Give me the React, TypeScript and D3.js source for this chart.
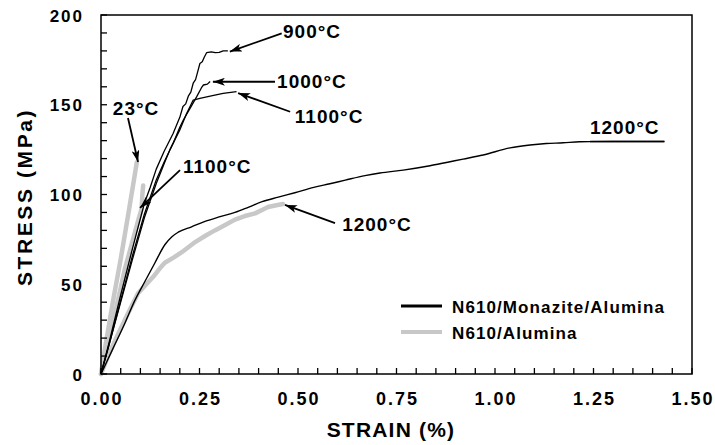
import React from "react";
import * as d3 from "d3";

type Pt = [number, number];

const xTicks = [0, 0.25, 0.5, 0.75, 1.0, 1.25, 1.5];
const yTicks = [0, 50, 100, 150, 200];

const mon900: Pt[] = [
  [0, 0], [0.02, 17], [0.05, 44], [0.08, 70], [0.11, 95], [0.125, 104], [0.14, 114], [0.16, 124],
  [0.183, 134], [0.2, 143], [0.208, 149], [0.215, 150.5], [0.222, 155], [0.228, 157], [0.234, 162],
  [0.24, 164], [0.245, 168], [0.251, 173], [0.257, 174], [0.262, 176.5], [0.268, 179],
  [0.28, 179.5], [0.29, 179], [0.3, 179.2], [0.31, 180], [0.322, 180],
];
const mon1000: Pt[] = [
  [0, 0], [0.02, 16], [0.05, 41], [0.08, 66], [0.11, 89], [0.14, 108], [0.16, 118],
  [0.184, 129], [0.2, 137.5], [0.209, 141.5], [0.226, 148], [0.243, 154.5], [0.255, 159.5],
  [0.26, 161], [0.27, 161.5], [0.277, 163],
];
const mon1100: Pt[] = [
  [0, 0], [0.02, 16], [0.05, 40], [0.08, 64], [0.11, 87], [0.14, 106], [0.16, 117],
  [0.175, 125], [0.2, 136], [0.217, 145], [0.234, 152.6], [0.251, 153.6], [0.28, 155],
  [0.31, 156.3], [0.344, 157.3],
];
const mon1200: Pt[] = [
  [0, 0], [0.03, 14], [0.06, 28], [0.086, 41], [0.11, 51], [0.137, 62], [0.162, 72],
  [0.18, 76.5], [0.196, 79], [0.23, 82], [0.264, 85], [0.3, 87.5], [0.34, 90], [0.375, 93],
  [0.409, 96], [0.45, 98.5], [0.492, 101], [0.54, 104], [0.581, 106], [0.62, 108],
  [0.67, 110.5], [0.708, 112], [0.767, 113.6], [0.835, 116], [0.88, 118], [0.919, 119.7],
  [0.97, 122], [1.038, 126], [1.089, 127.6], [1.13, 128.4], [1.173, 128.8], [1.215, 129.4],
  [1.3, 129.5], [1.43, 129.5],
];

const alu23: Pt[] = [
  [0, 0], [0.01, 14], [0.03, 40], [0.05, 64], [0.07, 90], [0.085, 110], [0.091, 118],
];
const alu1100: Pt[] = [
  [0, 0], [0.02, 19], [0.04, 38], [0.06, 58], [0.08, 74], [0.095, 86], [0.103, 92],
  [0.105, 100], [0.107, 105],
];
const alu1200: Pt[] = [
  [0, 0], [0.02, 11], [0.045, 23], [0.069, 34], [0.094, 45], [0.115, 50], [0.132, 54],
  [0.15, 59], [0.162, 62], [0.185, 65], [0.206, 68], [0.239, 73.5], [0.265, 77],
  [0.289, 80], [0.315, 83], [0.34, 86], [0.365, 88], [0.391, 89.5], [0.41, 91.5],
  [0.424, 93], [0.445, 94], [0.462, 94.7],
];

const labels: { text: string; x: number; y: number }[] = [
  { text: "900°C", x: 0.462, y: 187.2 },
  { text: "1000°C", x: 0.447, y: 159.3 },
  { text: "1100°C", x: 0.492, y: 139.8 },
  { text: "23°C", x: 0.03, y: 144.3 },
  { text: "1100°C", x: 0.208, y: 112 },
  { text: "1200°C", x: 0.612, y: 79.7 },
  { text: "1200°C", x: 1.241, y: 133.7 },
];

const arrows: { x1: number; y1: number; x2: number; y2: number }[] = [
  { x1: 0.4586, y1: 189.8, x2: 0.327, y2: 179.6 },
  { x1: 0.4416, y1: 162.8, x2: 0.284, y2: 162.8 },
  { x1: 0.48, y1: 146.1, x2: 0.348, y2: 156.5 },
  { x1: 0.0685, y1: 142.6, x2: 0.094, y2: 118.1 },
  { x1: 0.2005, y1: 113.6, x2: 0.099, y2: 92.5 },
  { x1: 0.594, y1: 84.1, x2: 0.467, y2: 94.2 },
];

const legendItems = [
  { text: "N610/Monazite/Alumina", color: "#000", width: 3 },
  { text: "N610/Alumina", color: "#c8c8c8", width: 4 },
];

const W = 715;
const H = 445;
const L = 101, R = 692, T = 15, B = 374;
const FONT = "'Liberation Sans', Arial, Helvetica, sans-serif";

export default function App() {
  const x = d3.scaleLinear().domain([0, 1.5]).range([L, R]);
  const y = d3.scaleLinear().domain([0, 200]).range([B, T]);
  const line = d3.line<Pt>().x((d) => x(d[0])).y((d) => y(d[1]));
  const smooth = d3.line<Pt>().x((d) => x(d[0])).y((d) => y(d[1])).curve(d3.curveMonotoneX);

  const xMinor = d3.range(0, 1.5001, 0.05);
  const yMinor = d3.range(0, 200.001, 10);

  return (
    <svg width={W} height={H} style={{ position: "absolute", left: 0, top: 0, background: "#fff" }}>
      <defs>
        <marker id="ah" viewBox="0 0 12 8" refX="12" refY="4" markerWidth="12" markerHeight="8"
          markerUnits="userSpaceOnUse" orient="auto">
          <path d="M0,0 L12,4 L0,8 L3,4 z" fill="#000" />
        </marker>
      </defs>
      <rect x={0} y={0} width={W} height={H} fill="#fff" />

      {/* gray curves */}
      {[alu1200, alu1100, alu23].map((d, i) => (
        <path key={"g" + i} d={line(d) || ""} fill="none" stroke="#c8c8c8" strokeWidth={4.5}
          strokeLinejoin="round" strokeLinecap="round" />
      ))}
      {/* black curves */}
      {[mon900, mon1000, mon1100].map((d, i) => (
        <path key={"b" + i} d={line(d) || ""} fill="none" stroke="#000" strokeWidth={1.3}
          strokeLinejoin="round" />
      ))}
      <path d={smooth(mon1200) || ""} fill="none" stroke="#000" strokeWidth={1.4} />

      {/* frame */}
      <rect x={L} y={T} width={R - L} height={B - T} fill="none" stroke="#000" strokeWidth={1.5} />
      {xMinor.map((v, i) => (
        <line key={"xt" + i} x1={x(v)} x2={x(v)} y1={B} y2={B - 6} stroke="#000" strokeWidth={1.3} />
      ))}
      {yMinor.map((v, i) => (
        <line key={"yt" + i} x1={L} x2={L + 6} y1={y(v)} y2={y(v)} stroke="#000" strokeWidth={1.3} />
      ))}
      {xTicks.map((v) => (
        <text key={"xl" + v} x={x(v) + 1} y={405} textAnchor="middle" fontFamily={FONT}
          fontWeight="bold" fontSize={18} letterSpacing={2}>{v.toFixed(2)}</text>
      ))}
      {yTicks.map((v) => (
        <text key={"yl" + v} x={84} y={y(v) + 6.5} textAnchor="end" fontFamily={FONT}
          fontWeight="bold" fontSize={17} letterSpacing={2}>{v}</text>
      ))}

      <text x={391} y={437} textAnchor="middle" fontFamily={FONT} fontWeight="bold" fontSize={21}
        letterSpacing={1.2}>STRAIN (%)</text>
      <text transform={`translate(32,${197}) rotate(-90)`} textAnchor="middle" fontFamily={FONT}
        fontWeight="bold" fontSize={21} letterSpacing={2.6}>STRESS (MPa)</text>

      {/* annotations */}
      {arrows.map((a, i) => (
        <line key={"ar" + i} x1={x(a.x1)} y1={y(a.y1)} x2={x(a.x2)} y2={y(a.y2)} stroke="#000"
          strokeWidth={1.8} markerEnd="url(#ah)" />
      ))}
      {labels.map((l, i) => (
        <text key={"lb" + i} x={x(l.x)} y={y(l.y)} fontFamily={FONT} fontWeight="bold" fontSize={19}
          letterSpacing={1}>{l.text}</text>
      ))}
      <line x1={x(1.241)} x2={x(1.43)} y1={y(129.5)} y2={y(129.5)} stroke="#000" strokeWidth={1.4} />

      {/* legend */}
      {legendItems.map((it, i) => (
        <g key={"lg" + i} transform={`translate(0,${306 + i * 26})`}>
          <line x1={401} x2={442} y1={0} y2={0} stroke={it.color} strokeWidth={it.width} />
          <text x={452} y={7} fontFamily={FONT} fontWeight="bold" fontSize={17} letterSpacing={1.1}>
            {it.text}
          </text>
        </g>
      ))}
    </svg>
  );
}
